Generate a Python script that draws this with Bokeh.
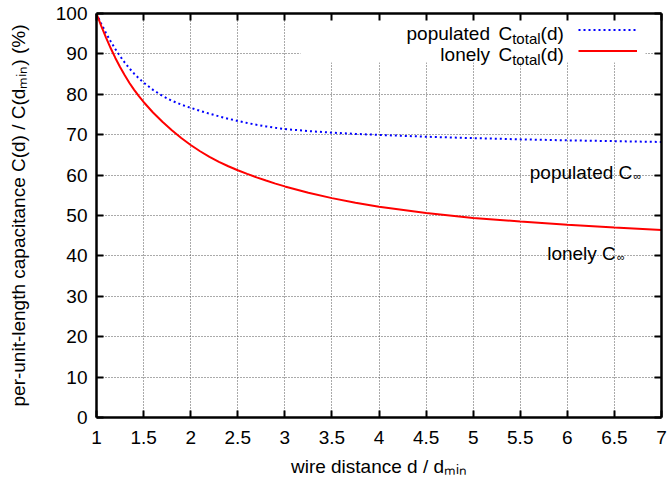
import math
from bokeh.plotting import figure
from bokeh.models import (LinearAxis, FixedTicker, Range1d, Label, BoxAnnotation,
                          Legend, LegendItem, NumeralTickFormatter, ColumnDataSource)
from bokeh.core.properties import value
from bokeh.embed import file_html
from bokeh.resources import INLINE

# ---------------- data ----------------
wire_distance = [1.0, 1.05, 1.1, 1.15, 1.2, 1.25, 1.3, 1.35, 1.4, 1.45, 1.5, 1.6, 1.7, 1.8, 1.9, 2.0,
                 2.1, 2.2, 2.3, 2.4, 2.5, 2.6, 2.7, 2.8, 2.9, 3.0, 3.25, 3.5, 3.75, 4.0,
                 4.5, 5.0, 5.5, 6.0, 6.5, 7.0]
populated_ctotal = [100, 97.5, 95.2, 93.1, 91.2, 89.45, 87.85, 86.4, 85.1, 83.95, 82.9,
                    81.1, 79.6, 78.4, 77.45, 76.65,
                    75.9, 75.2, 74.55, 73.95, 73.4, 72.9, 72.45, 72.05, 71.7, 71.4, 70.9, 70.5,
                    70.2, 69.95, 69.5, 69.15, 68.85, 68.6, 68.4, 68.2]
lonely_ctotal = [100, 96.95, 94.1, 91.45, 89.0, 86.75, 84.7, 82.8, 81.1, 79.55, 78.1,
                 75.5, 73.2, 71.1, 69.2, 67.45,
                 65.9, 64.52, 63.29, 62.19, 61.2, 60.3, 59.45, 58.65, 57.9, 57.2, 55.65, 54.3,
                 53.15, 52.15, 50.6, 49.4, 48.5, 47.7, 47.0, 46.4]
x_ticks = [1, 1.5, 2, 2.5, 3, 3.5, 4, 4.5, 5, 5.5, 6, 6.5, 7]
x_tick_labels = ["1", "1.5", "2", "2.5", "3", "3.5", "4", "4.5", "5", "5.5", "6", "6.5", "7"]
y_ticks = [0, 10, 20, 30, 40, 50, 60, 70, 80, 90, 100]
y_tick_labels = ["0", "10", "20", "30", "40", "50", "60", "70", "80", "90", "100"]

# ---------------- layout ----------------
FONT = "Liberation Sans"
FS = "19px"
SUB = "15px"
INF = "11px"

W, H = 667, 480
BL, BR, BT, BB = 96, 6, 13, 63
FW = W - BL - BR
FH = H - BT - BB


def X(px):
    return 1 + (px - BL) * 6.0 / FW


def Y(py):
    return 100 - (py - BT) * 100.0 / FH


p = figure(width=W, height=H, x_range=Range1d(1, 7), y_range=Range1d(0, 100),
           output_backend="svg", toolbar_location=None,
           min_border_left=BL, min_border_right=BR, min_border_top=BT, min_border_bottom=BB)
p.outline_line_color = None
p.background_fill_color = "white"
p.border_fill_color = "white"

xt = FixedTicker(ticks=x_ticks)
yt = FixedTicker(ticks=y_ticks)


def style_axis(ax, ticker, labels, show):
    ax.ticker = ticker
    ax.axis_line_width = 2.5
    ax.axis_line_color = "black"
    ax.major_tick_in = 7
    ax.major_tick_out = 0
    ax.major_tick_line_width = 2
    ax.major_tick_line_color = "black"
    ax.minor_tick_line_color = None
    if show:
        ax.major_label_overrides = {t: l for t, l in zip(ticker.ticks, labels)}
        ax.major_label_text_font = FONT
        ax.major_label_text_font_size = FS
        ax.major_label_text_color = "black"
        ax.axis_label_text_font = FONT
        ax.axis_label_text_font_size = FS
        ax.axis_label_text_font_style = "normal"
        ax.axis_label_text_color = "black"
    else:
        ax.major_label_overrides = {t: "" for t in ticker.ticks}
        ax.major_label_standoff = 0


xa = p.xaxis[0]
ya = p.yaxis[0]
style_axis(xa, xt, x_tick_labels, True)
style_axis(ya, yt, y_tick_labels, True)
xa.formatter = NumeralTickFormatter(format="0.[0]")
xa.major_label_standoff = 13
ya.major_label_standoff = 9
xa.axis_label = "wire distance d / d\u2098\u1d62\u2099"
ya.axis_label = "per-unit-length capacitance C(d) / C(d\u2098\u1d62\u2099) (%)"
xa.axis_label_standoff = 9
ya.axis_label_standoff = 24

top = LinearAxis()
right = LinearAxis()
style_axis(top, FixedTicker(ticks=x_ticks), x_tick_labels, False)
style_axis(right, FixedTicker(ticks=y_ticks), y_tick_labels, False)
p.add_layout(top, "above")
p.add_layout(right, "right")

for g in (p.xgrid[0], p.ygrid[0]):
    g.grid_line_color = "#555555"
    g.grid_line_dash = "1 2"
    g.grid_line_width = 1
p.xgrid[0].ticker = xt
p.ygrid[0].ticker = yt

# white legend backdrop hiding the grid
p.add_layout(BoxAnnotation(left=X(300), right=X(645), top=100, bottom=Y(62),
                           fill_color="white", fill_alpha=1, line_color=None,
                           level="underlay"))

src = ColumnDataSource(dict(d=wire_distance, pop=populated_ctotal, lon=lonely_ctotal))
r_pop = p.line("d", "pop", source=src, line_color="#0000ff", line_width=2, line_dash="2 3")
r_lon = p.line("d", "lon", source=src, line_color="#ff0000", line_width=2)

LEG_TOP = 18.8
legend = Legend(items=[LegendItem(label=value(" "), renderers=[r_pop]),
                       LegendItem(label=value(" "), renderers=[r_lon])],
                location=(578 - BL, FH - (LEG_TOP - BT) - 42),
                glyph_width=59, glyph_height=21, label_height=21, label_width=0,
                label_standoff=0, padding=0, spacing=0, margin=0,
                label_text_font_size="1px",
                background_fill_alpha=0, border_line_alpha=0)
p.add_layout(legend)


def lab(text, px, py, size=FS, align="left", angle=0.0):
    p.add_layout(Label(x=X(px), y=Y(py), text=text, text_font=FONT, text_font_size=size,
                       text_align=align, text_baseline="alphabetic", angle=angle,
                       text_color="black"))


# legend texts
for word, base in (("populated", 33.3), ("lonely", 54.3)):
    lab(word, 489.5, base, align="right")
    lab("C", 498, base)
    lab("total", 511.7, base + 5, SUB)
    lab("(d)", 540.1, base)

# asymptote labels
lab("populated C", 529.3, 171.7)
lab("\u221e", 633, 175.7, INF)
lab("lonely C", 546.7, 252.7)
lab("\u221e", 616.5, 256.5, INF)

open("out.html", "w").write(file_html(p, INLINE))
